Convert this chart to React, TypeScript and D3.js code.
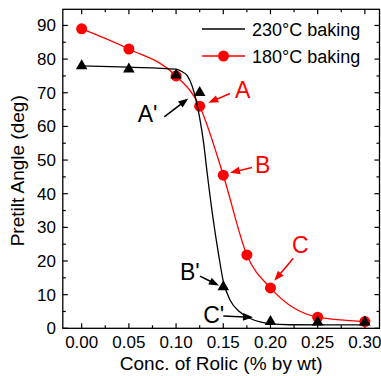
import React from "react";
import * as d3 from "d3";

const W = 381;
const H = 376;

// Data
const conc180 = [0, 0.05, 0.1, 0.125, 0.15, 0.175, 0.2, 0.25, 0.3];
const pretilt180 = [89, 83, 75, 66, 45.5, 21.8, 12, 3.3, 2];

const conc230 = [0, 0.05, 0.1, 0.125, 0.15, 0.2, 0.25, 0.3];
const pretilt230 = [78, 77, 75.2, 70, 12.3, 2, 1.8, 1.8];

// Fitted sigmoid line for 230°C
const fit230X = [0, 0.05, 0.1, 0.106, 0.112, 0.117, 0.121, 0.125, 0.129, 0.133, 0.139, 0.145, 0.15, 0.157, 0.167, 0.178, 0.19, 0.2, 0.22, 0.3];
const fit230Y = [78, 77.6, 77, 76.3, 75, 72, 68, 62.5, 55.5, 46, 33, 22, 14, 8.5, 5, 3, 1.8, 1.3, 1.05, 1];

const xTickValues = [0, 0.05, 0.1, 0.15, 0.2, 0.25, 0.3];
const xTickLabels = ["0.00", "0.05", "0.10", "0.15", "0.20", "0.25", "0.30"];
const xMinorValues = [0.025, 0.075, 0.125, 0.175, 0.225, 0.275];
const yTickValues = [0, 10, 20, 30, 40, 50, 60, 70, 80, 90];
const yMinorValues = [5, 15, 25, 35, 45, 55, 65, 75, 85];

const legendLabels = ["230°C baking", "180°C baking"];
const xTitle = "Conc. of Rolic (% by wt)";
const yTitle = "Pretilt Angle (deg)";

// annotations in data units
const annLabels = ["A", "B", "C", "A'", "B'", "C'"];
const annColors = ["#ff0000", "#ff0000", "#ff0000", "#000000", "#000000", "#000000"];
const annTextX = [0.1624, 0.1836, 0.2228, 0.0593, 0.1041, 0.1288];
const annTextY = [68.4, 46.1, 22.3, 61.4, 14.3, 1.5];
const annFromX = [0.1571, 0.1804, 0.2242, 0.0875, 0.1253, 0.15];
const annFromY = [69.8, 47.8, 20.8, 62.8, 15.5, 3.65];
const annToX = [0.1341, 0.1571, 0.204, 0.1129, 0.1454, 0.1815];
const annToY = [67.0, 46.2, 14.1, 68.3, 12.7, 3.27];

const FONT = "Liberation Sans, Arial, Helvetica, sans-serif";

export default function App() {
  const x = d3.scaleLinear().domain([-0.02, 0.3155]).range([62.8, 379.5]);
  const y = d3.scaleLinear().domain([0, 94.8]).range([328.3, 9.3]);
  const [x0, x1] = x.range();
  const [y0, y1] = y.range();

  const redLine = d3
    .line<number>()
    .x((_, i) => x(conc180[i]))
    .y((d) => y(d))
    .curve(d3.curveMonotoneX)(pretilt180) as string;

  const blackLine = d3
    .line<number>()
    .x((_, i) => x(fit230X[i]))
    .y((d) => y(d))
    .curve(d3.curveMonotoneX)(fit230Y) as string;

  const tri = d3.symbol().type(d3.symbolTriangle).size(58)() as string;

  const arrow = (i: number) => {
    const fx = x(annFromX[i]);
    const fy = y(annFromY[i]);
    const tx = x(annToX[i]);
    const ty = y(annToY[i]);
    const dx = tx - fx;
    const dy = ty - fy;
    const len = Math.hypot(dx, dy);
    const ux = dx / len;
    const uy = dy / len;
    const hl = 10;
    const hw = 3.8;
    const bx = tx - ux * hl;
    const by = ty - uy * hl;
    const pts = [
      [tx, ty],
      [bx - uy * hw, by + ux * hw],
      [bx + uy * hw, by - ux * hw],
    ];
    return (
      <g key={"arr" + i}>
        <line x1={fx} y1={fy} x2={bx + ux * 2} y2={by + uy * 2} stroke={annColors[i]} strokeWidth={1.6} />
        <polygon points={pts.map((p) => p.join(",")).join(" ")} fill={annColors[i]} />
      </g>
    );
  };

  return (
    <svg
      width={W}
      height={H}
      style={{ position: "absolute", left: 0, top: 0, background: "#fff" }}
      fontFamily={FONT}
    >
      <rect x={0} y={0} width={W} height={H} fill="#fff" />

      {/* ticks */}
      {xTickValues.map((v) => (
        <g key={"xt" + v}>
          <line x1={x(v)} x2={x(v)} y1={y0} y2={y0 - 5} stroke="#000" strokeWidth={1.2} />
          <line x1={x(v)} x2={x(v)} y1={y1} y2={y1 + 5} stroke="#000" strokeWidth={1.2} />
        </g>
      ))}
      {xMinorValues.map((v) => (
        <g key={"xm" + v}>
          <line x1={x(v)} x2={x(v)} y1={y0} y2={y0 - 3} stroke="#000" strokeWidth={1.2} />
          <line x1={x(v)} x2={x(v)} y1={y1} y2={y1 + 3} stroke="#000" strokeWidth={1.2} />
        </g>
      ))}
      {yTickValues.map((v) => (
        <g key={"yt" + v}>
          <line x1={x0} x2={x0 + 5} y1={y(v)} y2={y(v)} stroke="#000" strokeWidth={1.2} />
          <line x1={x1} x2={x1 - 5} y1={y(v)} y2={y(v)} stroke="#000" strokeWidth={1.2} />
        </g>
      ))}
      {yMinorValues.map((v) => (
        <g key={"ym" + v}>
          <line x1={x0} x2={x0 + 3} y1={y(v)} y2={y(v)} stroke="#000" strokeWidth={1.2} />
          <line x1={x1} x2={x1 - 3} y1={y(v)} y2={y(v)} stroke="#000" strokeWidth={1.2} />
        </g>
      ))}

      {/* frame */}
      <rect x={x0} y={y1} width={x1 - x0} height={y0 - y1} fill="none" stroke="#000" strokeWidth={1.3} />

      {/* tick labels */}
      {xTickValues.map((v, i) => (
        <text key={"xl" + v} x={x(v)} y={348} textAnchor="middle" fontSize={17} fill="#000">
          {xTickLabels[i]}
        </text>
      ))}
      {yTickValues.map((v) => (
        <text key={"yl" + v} x={56} y={y(v) + 6} textAnchor="end" fontSize={17} fill="#000">
          {String(v)}
        </text>
      ))}

      {/* axis titles */}
      <text x={(x0 + x1) / 2} y={370} textAnchor="middle" fontSize={19} fill="#000">
        {xTitle}
      </text>
      <text
        transform={`translate(24,${(y0 + y1) / 2 + 2}) rotate(-90)`}
        textAnchor="middle"
        fontSize={19}
        fill="#000"
      >
        {yTitle}
      </text>

      {/* 180 series */}
      <path d={redLine} fill="none" stroke="#ff0000" strokeWidth={1.3} />
      {pretilt180.map((v, i) => (
        <circle key={"c" + i} cx={x(conc180[i])} cy={y(v)} r={5.5} fill="#ff0000" />
      ))}

      {/* 230 series */}
      <path d={blackLine} fill="none" stroke="#000" strokeWidth={1.3} />
      {pretilt230.map((v, i) => (
        <path key={"t" + i} d={tri} transform={`translate(${x(conc230[i])},${y(v)})`} fill="#000" />
      ))}

      {/* legend */}
      <line x1={202} x2={245} y1={29} y2={29} stroke="#000" strokeWidth={1.3} />
      <text x={252} y={36} fontSize={18} fill="#000">
        {legendLabels[0]}
      </text>
      <line x1={202} x2={245} y1={56} y2={56} stroke="#ff0000" strokeWidth={1.3} />
      <circle cx={223.5} cy={56} r={5.5} fill="#ff0000" />
      <text x={252} y={63} fontSize={18} fill="#000">
        {legendLabels[1]}
      </text>

      {/* annotations */}
      {annLabels.map((_, i) => arrow(i))}
      {annLabels.map((t, i) => (
        <text key={"al" + i} x={x(annTextX[i])} y={y(annTextY[i])} fontSize={23} fill={annColors[i]}>
          {t}
        </text>
      ))}
    </svg>
  );
}
